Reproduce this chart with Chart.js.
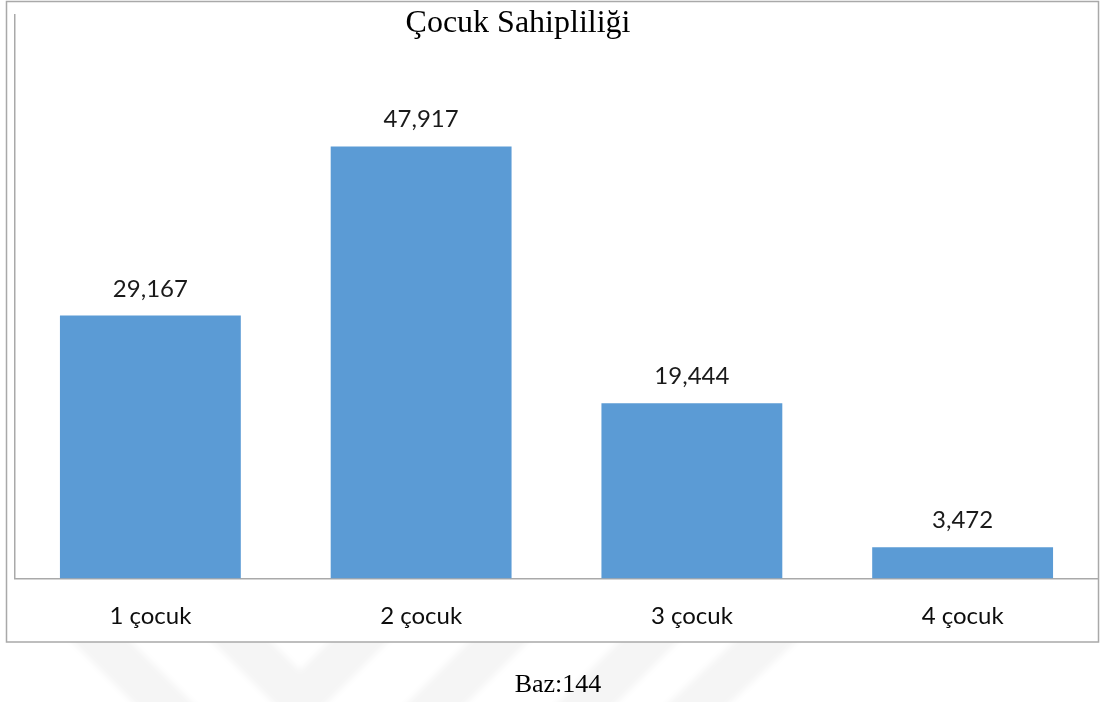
<!DOCTYPE html>
<html>
<head>
<meta charset="utf-8">
<script src="https://cdn.jsdelivr.net/npm/chart.js@4.4.0/dist/chart.umd.min.js"></script>
<style>
  html, body { margin: 0; padding: 0; background: #fff; }
  #wrap { width: 1101px; height: 702px; }
</style>
</head>
<body>
<div id="wrap"><canvas id="chart" width="1101" height="702"></canvas></div>
<script>
const categories = ['1 çocuk', '2 çocuk', '3 çocuk', '4 çocuk'];
const percentages = [29.167, 47.917, 19.444, 3.472];
const chartTitle = 'Çocuk Sahipliliği';
const footNote = 'Baz:144';

const barColor = '#5B9BD5';
const lineColor = '#a9a9a9';

// faint watermark bands behind the chart frame
const frameAndWatermark = {
  id: 'frameAndWatermark',
  beforeDraw(chart) {
    const ctx = chart.ctx;
    ctx.save();
    ctx.fillStyle = '#fff';
    ctx.fillRect(0, 0, chart.width, chart.height);

    ctx.strokeStyle = 'rgba(0,0,0,0.04)';
    ctx.lineWidth = 42;
    ctx.lineCap = 'butt';
    ctx.filter = 'blur(3px)';
    const bands = [
      [[60, 600], [200, 740]],
      [[200, 600], [300, 700], [420, 580]],
      [[540, 600], [410, 730]],
      [[560, 730], [690, 600]],
      [[670, 730], [810, 600]],
    ];
    bands.forEach(pts => {
      ctx.beginPath();
      pts.forEach((p, i) => (i ? ctx.lineTo(p[0], p[1]) : ctx.moveTo(p[0], p[1])));
      ctx.stroke();
    });
    ctx.filter = 'none';

    // chart frame
    ctx.fillStyle = '#fff';
    ctx.fillRect(6, 1, 1093, 641);
    ctx.strokeStyle = lineColor;
    ctx.lineWidth = 1.5;
    ctx.strokeRect(6.5, 1.5, 1092, 640.5);
    ctx.restore();
  },
  afterDraw(chart) {
    const ctx = chart.ctx;
    ctx.save();
    ctx.fillStyle = '#000';
    ctx.textAlign = 'center';
    ctx.textBaseline = 'alphabetic';
    ctx.font = '32px "Liberation Serif"';
    ctx.fillText(chartTitle, 518, 32);
    ctx.font = '26px "Liberation Serif"';
    ctx.fillText(footNote, 558, 691.5);
    ctx.restore();
  }
};

// value labels above each bar
const valueLabels = {
  id: 'valueLabels',
  afterDatasetsDraw(chart) {
    const ctx = chart.ctx;
    const meta = chart.getDatasetMeta(0);
    ctx.save();
    ctx.fillStyle = '#1a1a1a';
    ctx.font = '24px Lato';
    ctx.textAlign = 'center';
    ctx.textBaseline = 'alphabetic';
    meta.data.forEach((bar, i) => {
      const txt = percentages[i].toFixed(3).replace('.', ',');
      ctx.fillText(txt, bar.x, bar.y - 19);
    });
    ctx.restore();
  }
};

new Chart(document.getElementById('chart'), {
  type: 'bar',
  data: {
    labels: categories,
    datasets: [{
      data: percentages,
      backgroundColor: barColor,
      borderWidth: 0,
      barPercentage: 0.668,
      categoryPercentage: 1,
    }],
  },
  options: {
    responsive: false,
    animation: false,
    events: [],
    layout: { padding: { left: 0, right: 3, top: 15, bottom: 0 } },
    plugins: {
      legend: { display: false },
      tooltip: { enabled: false },
      title: { display: false },
    },
    scales: {
      x: {
        grid: { display: false, drawTicks: false },
        border: { display: true, color: lineColor, width: 1.5 },
        ticks: { color: '#0d0d0d', font: { family: 'Lato', size: 24 }, padding: 23 },
        afterFit: s => { s.height = 123.5; },
      },
      y: {
        min: 0,
        max: 62.5,
        grid: { display: false, drawTicks: false },
        border: { display: true, color: lineColor, width: 1.5 },
        ticks: { display: false },
        afterFit: s => { s.width = 15; },
      },
    },
  },
  plugins: [frameAndWatermark, valueLabels],
});
</script>
</body>
</html>
